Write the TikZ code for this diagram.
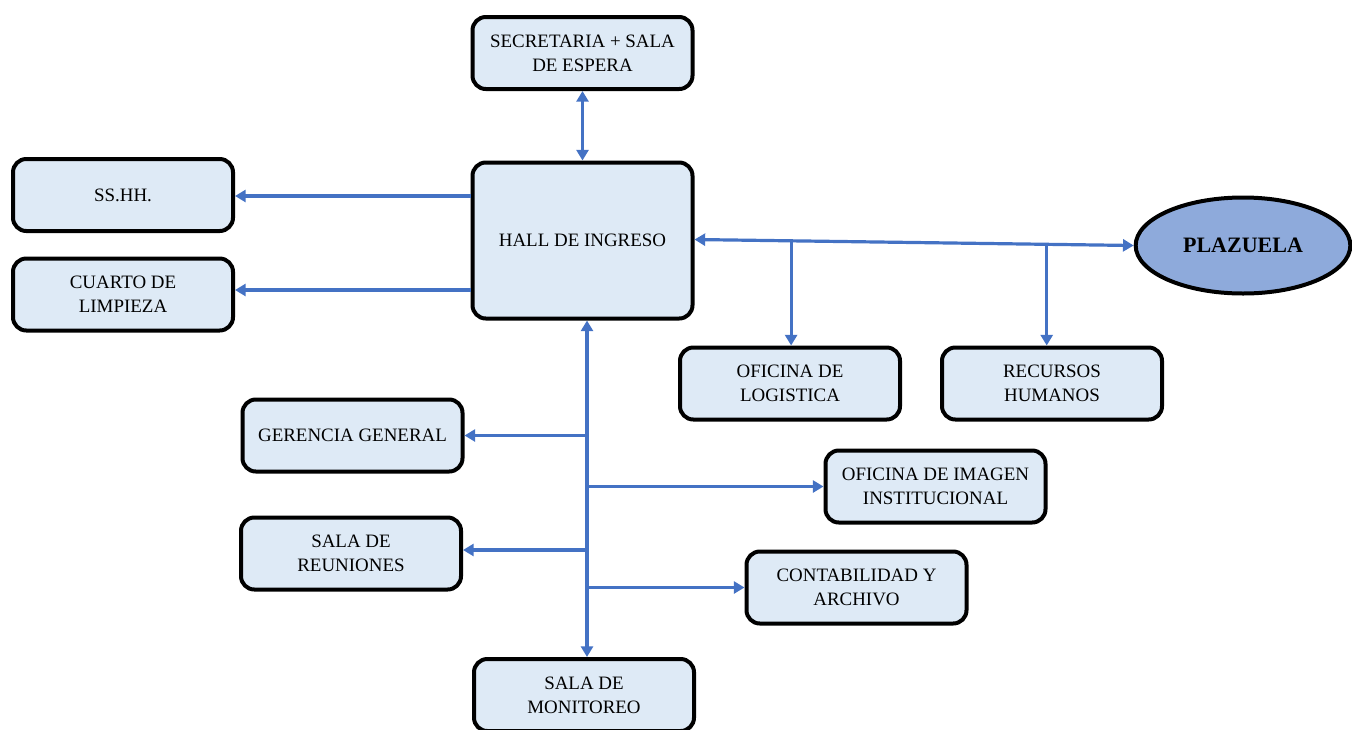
\documentclass[tikz,border=0pt]{standalone}
\usepackage{fontspec}
\setmainfont{Liberation Serif}
\usetikzlibrary{arrows.meta,shapes.geometric,calc}
\definecolor{boxfill}{HTML}{DEEAF6}
\definecolor{arrblue}{HTML}{4472C4}
\definecolor{plazfill}{HTML}{8EAADB}
\tikzset{
  room/.style={draw=black,line width=3pt,rounded corners=10pt,fill=boxfill,
    minimum width=165pt,minimum height=54pt,align=center,inner sep=2pt,
    font=\fontsize{14.2}{18}\selectfont},
  conn/.style={draw=arrblue,line width=2.4pt},
  tip/.tip={Triangle[width=9pt,length=8pt]},
  arr/.style={conn,-tip},
  darr/.style={conn,tip-tip},
}
\begin{document}
\begin{tikzpicture}[x=0.75pt,y=-0.75pt]
\useasboundingbox (0,0) rectangle (1352,729);
\begin{scope}
\clip (0,0) rectangle (1352,729);
\node[room] (sec) at (582.5,53) {SECRETARIA + SALA\\DE ESPERA};
\node[room,minimum height=117pt] (hall) at (582.5,240.5) {HALL DE INGRESO};
\node[room] (ss) at (123,195) {SS.HH.};
\node[room] (cua) at (123,294.5) {CUARTO DE\\LIMPIEZA};
\node[draw=black,line width=3pt,ellipse,fill=plazfill,minimum width=161pt,minimum height=72pt,
  font=\fontsize{16.5}{20}\selectfont\bfseries] (plaz) at (1243,245.5) {PLAZUELA};
\node[room] (log) at (790,383.5) {OFICINA DE\\LOGISTICA};
\node[room] (rh) at (1052,383.5) {RECURSOS\\HUMANOS};
\node[room] (ger) at (352.5,435.5) {GERENCIA GENERAL};
\node[room] (img) at (935.5,486.5) {OFICINA DE IMAGEN\\INSTITUCIONAL};
\node[room] (reu) at (351,553.5) {SALA DE\\REUNIONES};
\node[room] (con) at (856.5,587.5) {CONTABILIDAD Y\\ARCHIVO};
\node[room] (mon) at (584,695) {SALA DE\\MONITOREO};
\end{scope}
% connectors
\draw[darr] (sec.south) -- (hall.north);
\draw[arr] (hall.west |- 0,196) -- (ss.east |- 0,196);
\draw[arr] (hall.west |- 0,290) -- (cua.east |- 0,290);
\draw[darr] ([yshift=0.75pt]hall.east) -- (plaz.west);
\coordinate (j1) at ($([yshift=0.75pt]hall.east)!0.22!(plaz.west)$);
\coordinate (j2) at ($([yshift=0.75pt]hall.east)!0.802!(plaz.west)$);
\draw[arr] (j1) -- (j1 |- log.north);
\draw[arr] (j2) -- (j2 |- rh.north);
\coordinate (vt) at (587,320);
\coordinate (vb) at (587,657);
\draw[darr] (vt |- hall.south) -- (vb |- mon.north);
\draw[arr] (vt |- ger.east) -- (ger.east);
\draw[arr] (vt |- img.west) -- (img.west);
\draw[arr] (vt |- 0,550) -- (reu.east |- 0,550);
\draw[arr] (vt |- con.west) -- (con.west);
\end{tikzpicture}
\end{document}
